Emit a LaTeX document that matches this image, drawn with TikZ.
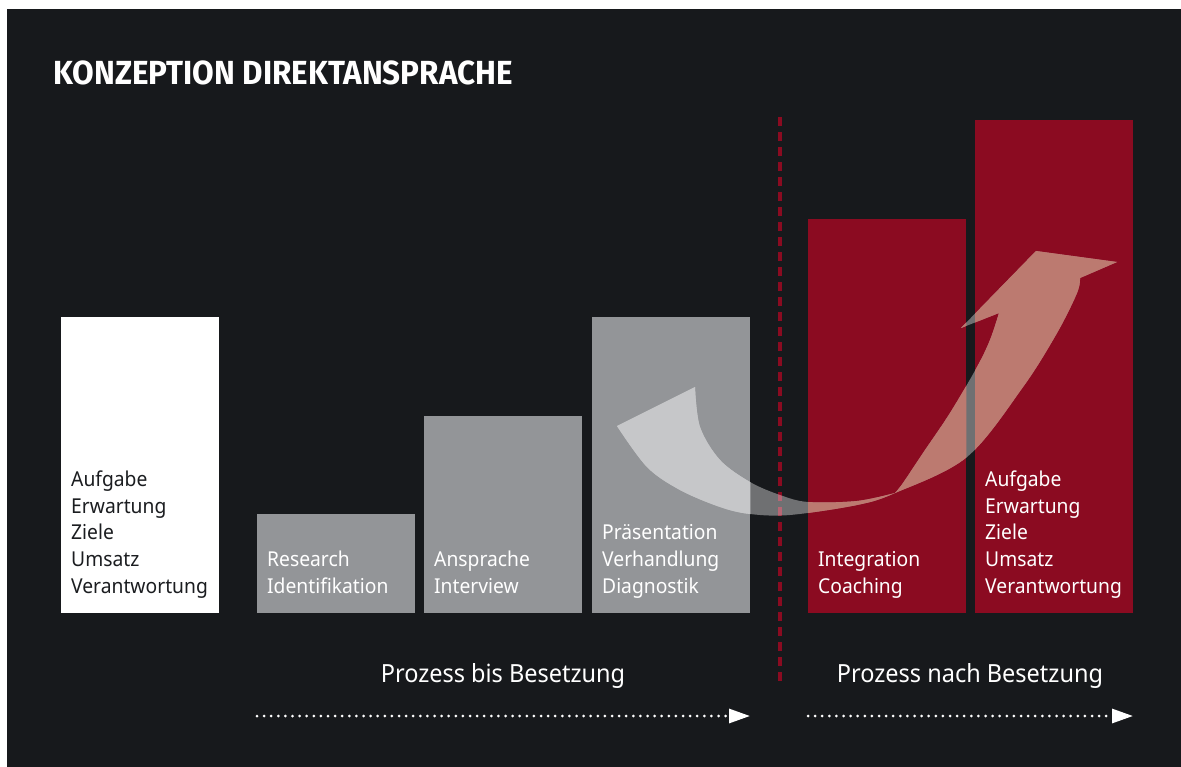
\documentclass[tikz,border=0pt]{standalone}
\usepackage{fontspec}
\setmainfont{Noto Sans}[FakeStretch=0.94]
\newfontfamily\titlefont{Fira Sans}[FakeStretch=0.94]
\usetikzlibrary{arrows.meta}

\definecolor{bgdark}{HTML}{17191C}
\definecolor{boxgrey}{HTML}{939598}
\definecolor{boxred}{HTML}{8B0B21}
\definecolor{textdark}{HTML}{1B1D20}
\definecolor{swooshred}{HTML}{BC7A70}
\definecolor{swooshgrey}{HTML}{C6C7C9}

% outline of the big curved arrow
\newcommand{\swooshpath}{
  (695,387) -- (617,426)
  -- plot[smooth, tension=0.55] coordinates {(617,426) (647,467) (680,490) (720,507)
      (750,514) (790,515) (857,505) (895,493) (967,457) (1023,387) (1057,333)
      (1077,293) (1080,278)}
  -- (1117,262) -- (1036,251) -- (961,328) -- (999,313)
  -- plot[smooth, tension=0.55] coordinates {(999,313) (990,340) (977,367) (950,413)
      (923,453) (903,483) (895,493)}
  -- plot[smooth, tension=0.55] coordinates {(895,493) (857,501) (808,502) (780,495)
      (750,482) (720,460) (700,427) (695,387)}
  -- cycle}

\tikzset{
  stage/.style={anchor=north west, inner sep=0pt, minimum width=158pt},
  boxtext/.style={anchor=south west, align=left, inner sep=0pt, text depth=0pt,
    font=\fontsize{20.5}{26.7}\selectfont},
  phase/.style={anchor=base, white, font=\fontsize{25}{30}\selectfont},
  flow/.style={white, line width=3pt, line cap=round, dash pattern=on 0pt off 7.1pt,
    -{Triangle[length=21pt, width=14pt]}}
}

\begin{document}
\begin{tikzpicture}[scale=1, x=1pt, y=-1pt]

  % --- Background ---
  \useasboundingbox (0,0) rectangle (1181,767);
  \fill[white] (0,0) rectangle (1181,767);
  \fill[bgdark] (7,9) rectangle (1181,767);

  % --- Title ---
  \node[anchor=base west, inner sep=0pt, white, font=\titlefont\bfseries\fontsize{33.4}{40}\selectfont]
    (title) at (53,85) {KONZEPTION DIREKTANSPRACHE};

  % --- Stages ---
  \node[stage, fill=white, minimum height=296pt] (goal) at (61,317) {};
  \node[stage, fill=boxgrey, minimum height=99pt] (research) at (257,514) {};
  \node[stage, fill=boxgrey, minimum height=197pt] (approach) at (424,416) {};
  \node[stage, fill=boxgrey, minimum height=296pt] (present) at (592,317) {};
  \node[stage, fill=boxred, minimum height=394pt] (integr) at (808,219) {};
  \node[stage, fill=boxred, minimum height=493pt] (result) at (975,120) {};

  % --- Stage texts ---
  \node[boxtext, textdark] at ([xshift=10pt, yshift=20pt]goal.south west)
    {Aufgabe\\Erwartung\\Ziele\\Umsatz\\Verantwortung};
  \node[boxtext, white] at ([xshift=10pt, yshift=20pt]research.south west)
    {Research\\Identifikation};
  \node[boxtext, white] at ([xshift=10pt, yshift=20pt]approach.south west)
    {Ansprache\\Interview};
  \node[boxtext, white] at ([xshift=10pt, yshift=20pt]present.south west)
    {Präsentation\\Verhandlung\\Diagnostik};
  \node[boxtext, white] at ([xshift=10pt, yshift=20pt]integr.south west)
    {Integration\\Coaching};
  \node[boxtext, white] at ([xshift=10pt, yshift=20pt]result.south west)
    {Aufgabe\\Erwartung\\Ziele\\Umsatz\\Verantwortung};

  % --- Divider ---
  \draw[boxred, line width=3.5pt, dash pattern=on 9pt off 6pt] (780,117) -- (780,686);

  % --- Swoosh ---
  \fill[white, opacity=0.38] \swooshpath;
  \begin{scope}
    \clip (present.north west) rectangle (present.south east);
    \fill[swooshgrey] \swooshpath;
  \end{scope}
  \begin{scope}
    \clip (integr.north west) rectangle (integr.south east)
          (result.north west) rectangle (result.south east);
    \fill[swooshred] \swooshpath;
  \end{scope}

  % --- Phases ---
  \node[phase] (before) at (503,682) {Prozess bis Besetzung};
  \node[phase] (after) at (970,682) {Prozess nach Besetzung};

  \coordinate (b1) at (257,716);
  \coordinate (b2) at (750,716);
  \coordinate (a1) at (808,716);
  \coordinate (a2) at (1133,716);
  \draw[flow] (b1) -- (b2);
  \draw[flow] (a1) -- (a2);

\end{tikzpicture}
\end{document}
